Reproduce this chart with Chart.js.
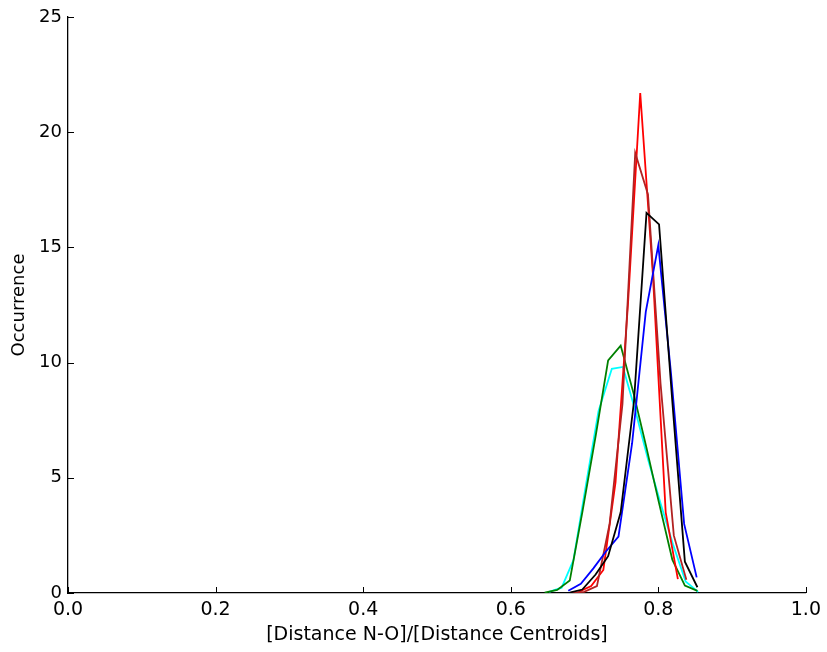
<!DOCTYPE html>
<html>
<head>
<meta charset="utf-8">
<script src="https://cdn.jsdelivr.net/npm/chart.js@4.4.1/dist/chart.umd.min.js"></script>
<style>
  html, body { margin: 0; padding: 0; background: #fff; }
  #wrap { width: 827px; height: 652px; }
</style>
</head>
<body>
<div id="wrap"><canvas id="c" width="827" height="652"></canvas></div>
<script>
// Histograms of the N-O / centroid distance ratio, one curve per system.
const blackX = [0.680, 0.697, 0.715, 0.732, 0.749, 0.767, 0.784, 0.801, 0.819, 0.836, 0.853];
const blackY = [0.02, 0.15, 0.8, 1.6, 3.5, 8.3, 16.5, 16.0, 8.3, 1.36, 0.25];

const blueX = [0.678, 0.695, 0.712, 0.729, 0.746, 0.7645, 0.783, 0.800, 0.817, 0.835, 0.852];
const blueY = [0.1, 0.4, 1.07, 1.8, 2.45, 6.5, 12.2, 15.1, 9.6, 3.0, 0.68];

const brownX = [0.682, 0.6995, 0.7168, 0.734, 0.7514, 0.7687, 0.786, 0.803, 0.821, 0.838];
const brownY = [0.02, 0.05, 0.3, 3.0, 8.2, 19.1, 17.3, 9.1, 2.5, 0.57];

const redX = [0.692, 0.709, 0.7255, 0.742, 0.759, 0.7755, 0.7925, 0.810, 0.8265];
const redY = [0.05, 0.3, 1.0, 4.8, 12.6, 21.7, 13.9, 3.5, 0.6];

const greenX = [0.646, 0.663, 0.680, 0.697, 0.715, 0.732, 0.749, 0.767, 0.784, 0.801, 0.819, 0.836, 0.853];
const greenY = [0.02, 0.13, 0.54, 3.5, 6.8, 10.1, 10.74, 8.6, 6.3, 3.9, 1.45, 0.32, 0.09];

const cyanX = [0.652, 0.669, 0.685, 0.702, 0.719, 0.737, 0.752, 0.769, 0.786, 0.803, 0.820, 0.837, 0.854];
const cyanY = [0.05, 0.23, 1.43, 4.7, 7.9, 9.73, 9.81, 7.9, 5.8, 3.9, 2.1, 0.5, 0.05];

const xTicks = [0.0, 0.2, 0.4, 0.6, 0.8, 1.0];
const yTicks = [0, 5, 10, 15, 20, 25];

const xTitle = '[Distance N-O]/[Distance Centroids]';
const yTitle = 'Occurrence';

function pts(xs, ys) { return xs.map((x, i) => ({ x: x, y: ys[i] })); }

function series(xs, ys, color) {
  return {
    data: pts(xs, ys),
    borderColor: color,
    backgroundColor: color,
    borderWidth: 1.8,
    pointRadius: 0,
    showLine: true,
    tension: 0,
    fill: false
  };
}

const datasets = [
  series(blackX, blackY, '#000000'),
  series(blueX, blueY, '#0000ff'),
  series(brownX, brownY, '#b22222'),
  series(redX, redY, '#ff0000'),
  series(greenX, greenY, '#008000'),
  series(cyanX, cyanY, '#00ffff')
];

// Short tick marks pointing into the plot area, as on a classic matplotlib axis.
const inwardTicks = {
  id: 'inwardTicks',
  afterDatasetsDraw(chart) {
    const { ctx, chartArea, scales } = chart;
    const len = 6;
    ctx.save();
    ctx.strokeStyle = '#000';
    ctx.lineWidth = 1;
    xTicks.forEach(v => {
      const px = Math.round(scales.x.getPixelForValue(v)) + 0.5;
      ctx.beginPath();
      ctx.moveTo(px, chartArea.bottom);
      ctx.lineTo(px, chartArea.bottom - len);
      ctx.stroke();
    });
    yTicks.forEach(v => {
      const py = Math.round(scales.y.getPixelForValue(v)) + 0.5;
      ctx.beginPath();
      ctx.moveTo(chartArea.left, py);
      ctx.lineTo(chartArea.left + len, py);
      ctx.stroke();
    });
    ctx.restore();
  }
};

const yFont = { family: 'DejaVu Sans', size: 18 };
const xFont = { family: 'DejaVu Sans', size: 19 };

new Chart(document.getElementById('c'), {
  type: 'scatter',
  data: { datasets: datasets },
  options: {
    responsive: false,
    animation: false,
    events: [],
    layout: { padding: { left: 0, right: 21, top: 17, bottom: 0 } },
    plugins: { legend: { display: false }, tooltip: { enabled: false } },
    scales: {
      x: {
        type: 'linear',
        min: 0, max: 1,
        afterBuildTicks: s => { s.ticks = xTicks.map(v => ({ value: v })); },
        afterFit: s => { s.height = 59; },
        grid: { display: false, drawTicks: false },
        border: { display: true, color: '#000', width: 1.3 },
        ticks: { color: '#000', font: xFont, padding: 6, maxRotation: 0, callback: v => v.toFixed(1) },
        title: { display: true, text: xTitle, color: '#000', font: xFont, padding: { top: 0, bottom: 6 } }
      },
      y: {
        type: 'linear',
        min: 0, max: 25,
        afterBuildTicks: s => { s.ticks = yTicks.map(v => ({ value: v })); },
        afterFit: s => { s.width = 68; },
        grid: { display: false, drawTicks: false },
        border: { display: true, color: '#000', width: 1.3 },
        ticks: { color: '#000', font: yFont, padding: 6, callback: v => String(v) },
        title: { display: true, text: yTitle, color: '#000', font: yFont, padding: { top: 9, bottom: 0 } }
      }
    }
  },
  plugins: [inwardTicks]
});
</script>
</body>
</html>
